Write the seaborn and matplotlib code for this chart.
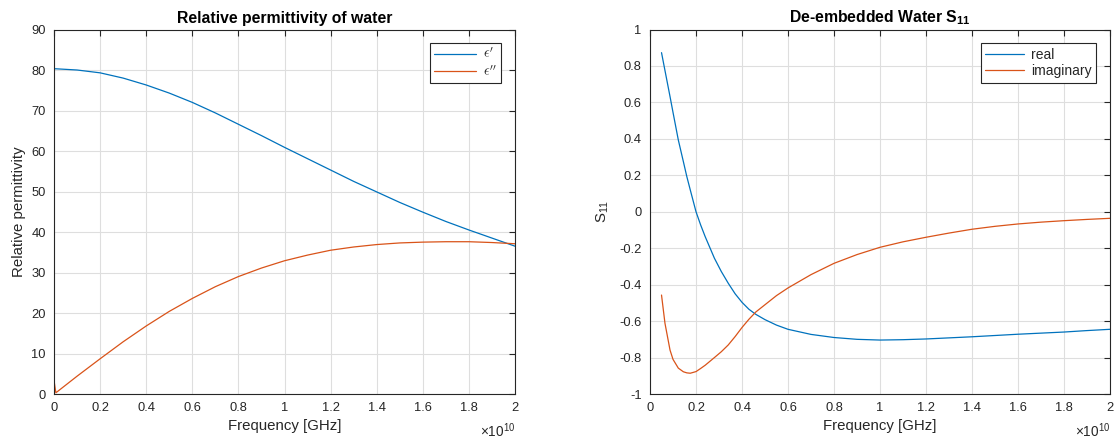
import matplotlib
matplotlib.use("Agg")
import matplotlib.pyplot as plt
import seaborn as sns
import pandas as pd

# ---------------- data ----------------
# frequency in units of 1e10 Hz
freq_eps = [0.0, 0.008, 0.1, 0.2, 0.3, 0.4, 0.5, 0.6, 0.7, 0.8, 0.9, 1.0,
            1.1, 1.2, 1.3, 1.4, 1.5, 1.6, 1.7, 1.8, 1.9, 2.0]
eps_real = [80.3, 80.3, 80.0, 79.3, 78.0, 76.3, 74.3, 72.0, 69.4, 66.6, 63.8, 60.9,
            58.1, 55.3, 52.5, 49.9, 47.3, 44.9, 42.6, 40.5, 38.5, 36.5]
eps_imag = [3.3, 0.3, 4.4, 8.7, 12.9, 16.8, 20.4, 23.6, 26.5, 29.0, 31.1, 32.9,
            34.3, 35.5, 36.3, 36.9, 37.3, 37.5, 37.6, 37.6, 37.4, 37.1]

freq_s = [0.05, 0.065, 0.087, 0.10, 0.123, 0.145, 0.16, 0.175, 0.2, 0.22, 0.24,
          0.28, 0.31, 0.34, 0.37, 0.40, 0.43, 0.46, 0.5, 0.55, 0.6, 0.7, 0.8,
          0.9, 1.0, 1.1, 1.2, 1.3, 1.4, 1.5, 1.6, 1.7, 1.8, 1.9, 2.0]
s11_real = [0.873, 0.775, 0.632, 0.545, 0.394, 0.275, 0.193, 0.12, 0.0, -0.072,
            -0.137, -0.255, -0.328, -0.392, -0.45, -0.497, -0.535, -0.563,
            -0.592, -0.622, -0.645, -0.673, -0.69, -0.70, -0.704, -0.702,
            -0.698, -0.692, -0.686, -0.679, -0.672, -0.666, -0.66, -0.652,
            -0.645]
s11_imag = [-0.457, -0.612, -0.759, -0.81, -0.858, -0.878, -0.884, -0.886,
            -0.877, -0.86, -0.842, -0.80, -0.768, -0.731, -0.685, -0.635,
            -0.59, -0.55, -0.51, -0.46, -0.418, -0.345, -0.283, -0.235,
            -0.195, -0.165, -0.14, -0.117, -0.096, -0.08, -0.067, -0.057,
            -0.049, -0.042, -0.036]

x_ticks = [0, 0.2, 0.4, 0.6, 0.8, 1, 1.2, 1.4, 1.6, 1.8, 2]
x_tick_labels = ["0", "0.2", "0.4", "0.6", "0.8", "1", "1.2", "1.4", "1.6", "1.8", "2"]
eps_ticks = [0, 10, 20, 30, 40, 50, 60, 70, 80, 90]
s_ticks = [-1, -0.8, -0.6, -0.4, -0.2, 0, 0.2, 0.4, 0.6, 0.8, 1]
s_tick_labels = ["-1", "-0.8", "-0.6", "-0.4", "-0.2", "0", "0.2", "0.4", "0.6", "0.8", "1"]

eps_names = [r"$\epsilon'$", r"$\epsilon''$"]
s_names = ["real", "imaginary"]

BLUE = "#0072BD"
ORANGE = "#D95319"
AX = "#262626"

# ---------------- style ----------------
sns.set_theme(style="white")
plt.rcParams["font.family"] = ["Liberation Sans", "DejaVu Sans"]
plt.rcParams["mathtext.fontset"] = "custom"
plt.rcParams["mathtext.rm"] = "Liberation Sans"
plt.rcParams["mathtext.it"] = "Liberation Sans:italic"
plt.rcParams["mathtext.bf"] = "Liberation Sans:bold"

fig = plt.figure(figsize=(11.14, 4.43), dpi=100)
ax1 = fig.add_axes([0.0485, 0.1106, 0.4138, 0.8228])
ax2 = fig.add_axes([0.5835, 0.1106, 0.4129, 0.8228])

df1 = pd.DataFrame({
    "f": freq_eps + freq_eps,
    "v": eps_real + eps_imag,
    "s": [eps_names[0]] * len(freq_eps) + [eps_names[1]] * len(freq_eps),
})
df2 = pd.DataFrame({
    "f": freq_s + freq_s,
    "v": s11_real + s11_imag,
    "s": [s_names[0]] * len(freq_s) + [s_names[1]] * len(freq_s),
})

sns.lineplot(data=df1, x="f", y="v", hue="s", palette=[BLUE, ORANGE],
             estimator=None, sort=False, linewidth=0.9, ax=ax1)
sns.lineplot(data=df2, x="f", y="v", hue="s", palette=[BLUE, ORANGE],
             estimator=None, sort=False, linewidth=0.9, ax=ax2)


def style(ax, yticks, ylabels, ylim, legfs, hl):
    ax.set_xlim(0, 2)
    ax.set_ylim(*ylim)
    ax.set_xticks(x_ticks)
    ax.set_xticklabels(x_tick_labels)
    ax.set_yticks(yticks)
    if ylabels is not None:
        ax.set_yticklabels(ylabels)
    ax.grid(True, color="#dedede", linewidth=0.8)
    ax.set_axisbelow(True)
    for sp in ax.spines.values():
        sp.set_color(AX)
        sp.set_linewidth(0.8)
        sp.set_visible(True)
    ax.tick_params(direction="in", length=4, width=0.8, colors=AX,
                   labelsize=9.3, top=True, right=True, labelcolor=AX, pad=6)
    ax.set_xlabel("Frequency [GHz]", fontsize=10.8, color=AX, labelpad=3)
    # exponent label, placed in figure pixels near the axes' right edge
    x_right = ax.get_position().x1
    fig.text(x_right, 6 / 443, r"$\times\mathregular{10^{10}}$",
             ha="right", va="baseline", fontsize=9.8, color=AX)
    leg = ax.legend(loc="upper right", frameon=True, fontsize=legfs,
                    handlelength=hl, borderpad=0.3, labelspacing=0.2,
                    handletextpad=0.5, fancybox=False, framealpha=1,
                    borderaxespad=1.0)
    leg.get_frame().set_edgecolor(AX)
    leg.get_frame().set_linewidth(0.8)
    return leg


leg1 = style(ax1, eps_ticks, None, (0, 90), 10, 3.0)
for t in leg1.get_texts():
    t.set_math_fontfamily("cm")
style(ax2, s_ticks, s_tick_labels, (-1, 1), 10, 2.8)

ax1.set_ylabel("Relative permittivity", fontsize=10.8, color=AX, labelpad=4)
ax2.set_ylabel(r"$\mathregular{S_{11}}$", fontsize=10.8, color=AX, labelpad=6)
ax1.set_title("Relative permittivity of water", fontsize=11.3, fontweight="bold",
              color="black", pad=5)
ax2.set_title(r"De-embedded Water $\mathbf{S_{11}}$", fontsize=11.3,
              fontweight="bold", color="black", pad=5)

fig.savefig("out.png", dpi=100, facecolor="white")
